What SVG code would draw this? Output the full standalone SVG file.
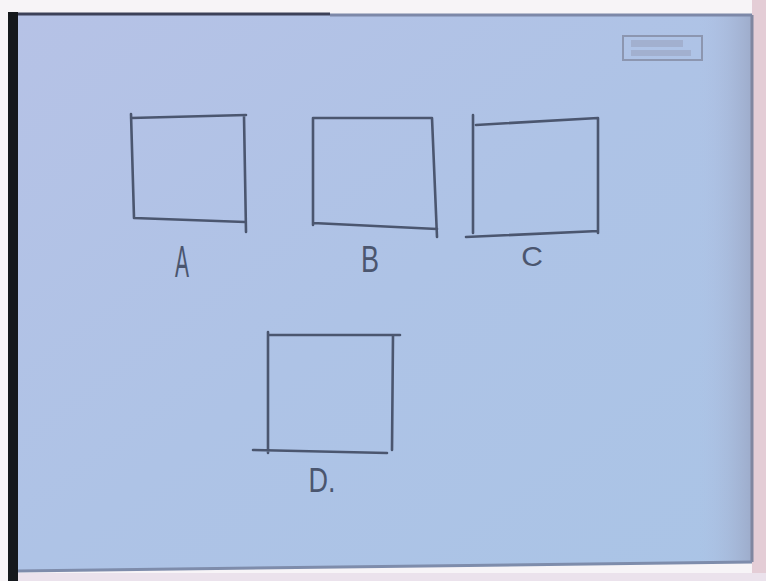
<svg xmlns="http://www.w3.org/2000/svg" width="766" height="581" viewBox="0 0 766 581">
  <defs>
    <linearGradient id="board" x1="0" y1="0" x2="1" y2="1">
      <stop offset="0" stop-color="#b6c2e6"/>
      <stop offset="0.5" stop-color="#aec3e6"/>
      <stop offset="1" stop-color="#aac4e6"/>
    </linearGradient>
    <linearGradient id="rightEdge" x1="0" y1="0" x2="1" y2="0">
      <stop offset="0" stop-color="#aebee0" stop-opacity="0"/>
      <stop offset="1" stop-color="#9aa6c4" stop-opacity="0.8"/>
    </linearGradient>
    <style>
      .sq { fill: none; stroke: #4b566f; stroke-width: 2.6; stroke-linecap: round; stroke-linejoin: round; }
      .lbl { font-family: "Liberation Sans", "DejaVu Sans", sans-serif; font-size: 30px; fill: #4b566f; text-anchor: middle; }
    </style>
  </defs>

  <!-- background / board -->
  <rect x="0" y="0" width="766" height="581" fill="#f7f4f7"/>
  <rect x="752" y="0" width="14" height="581" fill="#e4cdd6"/>
  <polygon points="18,15 752,15 752,562 18,571" fill="url(#board)"/>
  <polygon points="700,15 752,15 752,562 700,563" fill="url(#rightEdge)"/>
  <line x1="330" y1="15" x2="752" y2="15" stroke="#7d88a8" stroke-width="3"/>
  <line x1="18" y1="14" x2="330" y2="14" stroke="#3c4058" stroke-width="3"/>
  <polyline points="752,15 752,562" fill="none" stroke="#7f86a0" stroke-width="3"/>
  <polyline points="18,571 752,562" fill="none" stroke="#7e8cab" stroke-width="3"/>
  <rect x="8" y="12" width="10" height="569" fill="#15181c"/>
  <rect x="18" y="573" width="748" height="8" fill="#ebe2ec"/>

  <!-- faint stamp top right -->
  <g id="stamp">
    <rect x="623" y="36" width="79" height="24" fill="none" stroke="#8c96b0" stroke-width="2"/>
    <rect x="631" y="40" width="52" height="7" fill="#9aa4bf" opacity="0.6"/>
    <rect x="631" y="50" width="60" height="6" fill="#9aa4bf" opacity="0.6"/>
  </g>

  <g id="A">
    <path class="sq" d="M131,114 L134,218 M131,118 L246,115 M134,218 L245,222 M244,116 L246,232"/>
    <text class="lbl" transform="translate(182 277) scale(0.7 1.5)">A</text>
  </g>

  <g id="B">
    <path class="sq" d="M313,118 L313,225 M313,118 L432,118 M432,118 L437,237 M313,223 L437,229"/>
    <text class="lbl" transform="translate(370 272) scale(0.9 1.25)">B</text>
  </g>

  <g id="C">
    <path class="sq" d="M473,115 L473,233 M476,125 L598,118 M598,118 L598,233 M466,237 L598,231"/>
    <text class="lbl" transform="translate(532 266) scale(1.0 0.95)">C</text>
  </g>

  <g id="D">
    <path class="sq" d="M268,332 L268,453 M268,335 L400,335 M393,335 L392,450 M253,450 L387,453"/>
    <text class="lbl" transform="translate(322 492) scale(0.9 1.15)">D.</text>
  </g>
</svg>
